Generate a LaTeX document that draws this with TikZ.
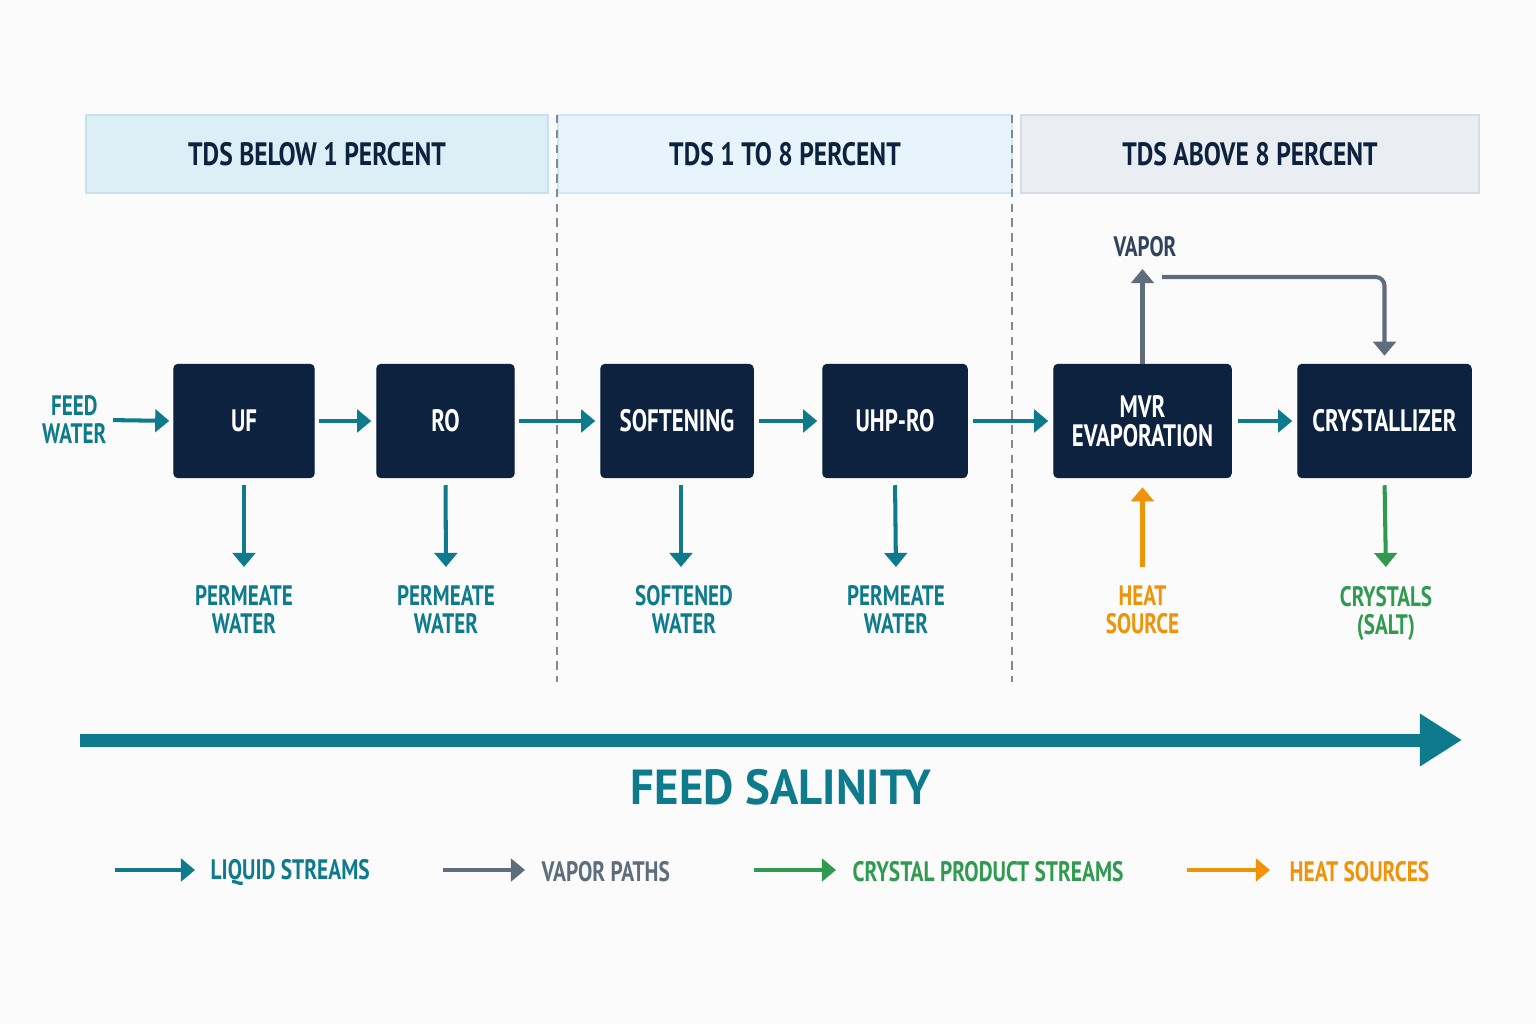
\documentclass[tikz,border=0pt]{standalone}
\usepackage{fontspec}
\setmainfont{PT Sans}[FakeStretch=0.8]
\usetikzlibrary{arrows.meta,positioning}
\definecolor{navy}{HTML}{0C223F}
\definecolor{teal}{HTML}{0E7B8D}
\definecolor{vgray}{HTML}{5E6D7C}
\definecolor{cgreen}{HTML}{2F9A50}
\definecolor{horange}{HTML}{EF9409}
\definecolor{lowfill}{HTML}{DDEFF6}
\definecolor{lowline}{HTML}{C6E3ED}
\definecolor{midfill}{HTML}{E7F4FB}
\definecolor{midline}{HTML}{D0E6F2}
\definecolor{highfill}{HTML}{EAEEF2}
\definecolor{highline}{HTML}{D6DDE4}
\tikzstyle{box}=[rectangle,fill=navy,draw=navy,rounded corners=1.2pt,minimum height=1.13cm,inner sep=0pt,text=white,align=center,font=\bfseries\fontsize{8.8}{8.3}\selectfont\addfontfeature{FakeStretch=0.74}]
\tikzstyle{band}=[rectangle,line width=0.6pt,minimum height=0.78cm,inner sep=0pt,text=navy,font=\bfseries\fontsize{9.2}{11}\selectfont\addfontfeature{FakeStretch=0.79}]
\tikzstyle{annot}=[align=center,font=\bfseries\fontsize{8}{8}\selectfont\addfontfeature{FakeStretch=0.75}]
\tikzstyle{legend}=[anchor=west,inner sep=0pt,font=\bfseries\fontsize{8}{9}\selectfont\addfontfeature{FakeStretch=0.76}]
\tikzstyle{flow}=[line width=1.15pt,-{Triangle[length=4pt,width=6.4pt]}]
\begin{document}
\begin{tikzpicture}[x=0.01cm,y=-0.01cm]
	\useasboundingbox (0,0) rectangle (1536,1024);
	\fill[white!97!gray] (0,0) rectangle (1536,1024);

	% salinity ranges
	\node[band, minimum width=4.62cm, fill=lowfill, draw=lowline](low) at (317,154){TDS BELOW 1 PERCENT};
	\node[band, minimum width=4.54cm, fill=midfill, draw=midline](mid) at (785,154){TDS 1 TO 8 PERCENT};
	\node[band, minimum width=4.58cm, fill=highfill, draw=highline](high) at (1250,154){TDS ABOVE 8 PERCENT};
	\draw[vgray!80, line width=0.45pt, dash pattern=on 2.4pt off 1.8pt] (557,115) -- (557,682);
	\draw[vgray!80, line width=0.45pt, dash pattern=on 2.4pt off 1.8pt] (1012,115) -- (1012,682);

	% units
	\node[box, minimum width=1.40cm](uf) at (244,421){UF};
	\node[box, minimum width=1.37cm](ro) at (445.5,421){RO};
	\node[box, minimum width=1.52cm](soft) at (677,421){SOFTENING};
	\node[box, minimum width=1.44cm](uhp) at (895,421){UHP-RO};
	\node[box, minimum width=1.77cm](mvr) at (1142.5,421){MVR\\EVAPORATION};
	\node[box, minimum width=1.73cm](cry) at (1384.5,421){CRYSTALLIZER};

	\node[annot, text=teal, inner sep=0pt, anchor=east](feed) at (107,420){FEED\\WATER};
	\node[annot, text=teal, anchor=north](pw1) at (244,573){PERMEATE\\WATER};
	\node[annot, text=teal, anchor=north](pw2) at (446,573){PERMEATE\\WATER};
	\node[annot, text=teal, anchor=north](sw) at (684,573){SOFTENED\\WATER};
	\node[annot, text=teal, anchor=north](pw3) at (896,573){PERMEATE\\WATER};
	\node[annot, text=horange, anchor=north](heat) at (1142.5,573){HEAT\\SOURCE};
	\node[annot, text=cgreen, anchor=north](salt) at (1386,574){CRYSTALS\\(SALT)};
	\node[annot, text=navy!85](vap) at (1145,247){VAPOR};
	\coordinate (vtop) at (1142.5,269);
	\coordinate (vstart) at (1162,277);

	\draw[flow, teal, shorten <=0.06cm, shorten >=0.04cm] (feed.east) -- (uf.west);
	\draw[flow, teal, shorten <=0.04cm, shorten >=0.05cm] (uf.east) -- (ro.west);
	\draw[flow, teal, shorten <=0.04cm, shorten >=0.05cm] (ro.east) -- (soft.west);
	\draw[flow, teal, shorten <=0.05cm, shorten >=0.05cm] (soft.east) -- (uhp.west);
	\draw[flow, teal, shorten <=0.05cm, shorten >=0.05cm] (uhp.east) -- (mvr.west);
	\draw[flow, teal, shorten <=0.06cm, shorten >=0.05cm] (mvr.east) -- (cry.west);

	\draw[flow, teal, shorten <=0.07cm, shorten >=0.06cm] (uf.south) -- (pw1.north);
	\draw[flow, teal, shorten <=0.07cm, shorten >=0.06cm] (ro.south) -- (pw2.north);
	\draw[flow, teal, shorten <=0.07cm, shorten >=0.06cm] (soft.south -| 681,0) -- (sw.north -| 681,0);
	\draw[flow, teal, shorten <=0.07cm, shorten >=0.06cm] (uhp.south) -- (pw3.north);
	\draw[flow, horange, shorten <=0.06cm, shorten >=0.09cm] (heat.north) -- (mvr.south);
	\draw[flow, cgreen, shorten <=0.07cm, shorten >=0.07cm] (cry.south) -- (salt.north);
	\draw[flow, vgray] (mvr.north) -- (vtop);
	\draw[flow, vgray, rounded corners=2.5pt, shorten >=0.08cm] (vstart) -| (cry.north);

	% salinity axis
	\coordinate (ax0) at (80,740);
	\coordinate (ax1) at (1462,740);
	\draw[teal, line width=3.7pt, -{Triangle[length=12pt,width=14.2pt]}] (ax0) -- (ax1);
	\node[text=teal, font=\bfseries\fontsize{14}{16}\selectfont\addfontfeature{FakeStretch=0.95}](sal) at (781,787){FEED SALINITY};

	% legend
	\coordinate (leg1) at (115,870);
	\coordinate (leg2) at (443,870);
	\coordinate (leg3) at (754,870);
	\coordinate (leg4) at (1187,870);
	\node[legend, text=teal](leg1t) at (210,872){LIQUID STREAMS};
	\node[legend, text=vgray](leg2t) at (541,872){VAPOR PATHS};
	\node[legend, text=cgreen](leg3t) at (852,872){CRYSTAL PRODUCT STREAMS};
	\node[legend, text=horange](leg4t) at (1289,872){HEAT SOURCES};
	\draw[flow, teal, shorten >=0.15cm] (leg1) -- (leg1 -| leg1t.west);
	\draw[flow, vgray, shorten >=0.16cm] (leg2) -- (leg2 -| leg2t.west);
	\draw[flow, cgreen, shorten >=0.16cm] (leg3) -- (leg3 -| leg3t.west);
	\draw[flow, horange, shorten >=0.19cm] (leg4) -- (leg4 -| leg4t.west);

\end{tikzpicture}
\end{document}
